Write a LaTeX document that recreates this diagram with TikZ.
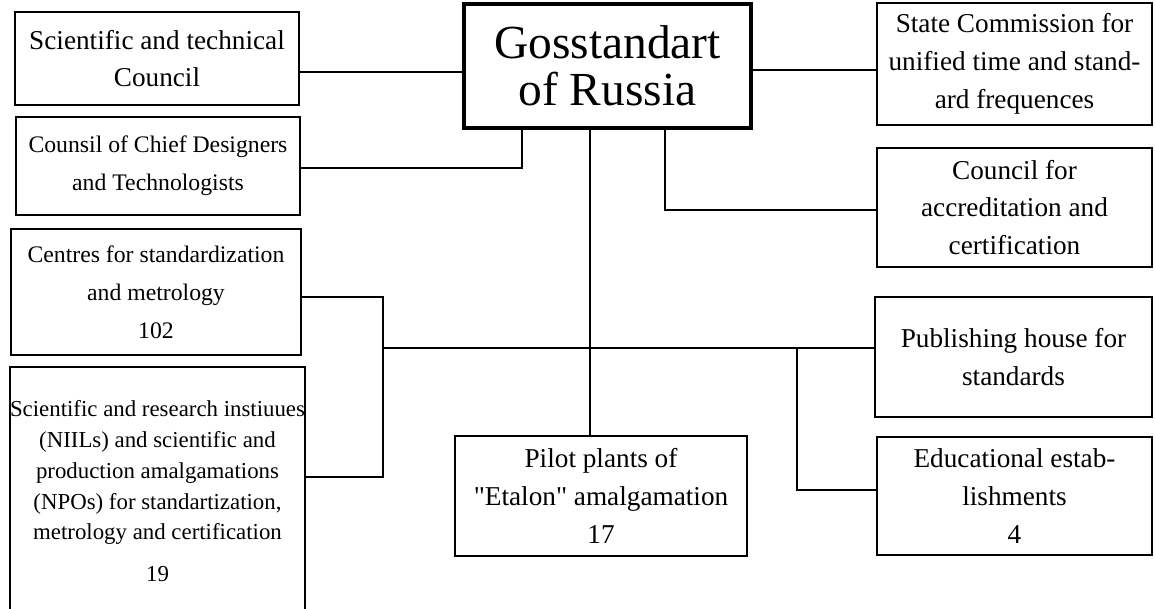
\documentclass[tikz,border=0pt]{standalone}
\usepackage{fontspec}
\setmainfont{Liberation Serif}
\usepackage{tikz}
\usetikzlibrary{calc}

\begin{document}
\begin{tikzpicture}[x=0.02cm,y=-0.02cm]
                      \tikzstyle{box}=[draw=black,line width=0.8pt,inner sep=0pt,align=center,font=\fontsize{15.5}{21.5}\selectfont]
                      \tikzstyle{small}=[font=\fontsize{13.5}{21.5}\selectfont]
                      \tikzstyle{tiny}=[font=\fontsize{13}{17.5}\selectfont]
                      \tikzstyle{line}=[line width=0.8pt]
                      \useasboundingbox (0,0) rectangle (1155,608);
                      \node[box,line width=2.2pt,minimum width=5.74cm,minimum height=2.48cm,font=\fontsize{27}{27}\selectfont] (gos) at (607.5,66) {Gosstandart\\of Russia};
                      \node[box,minimum width=5.68cm,minimum height=1.86cm] (sci) at (157,58.5) {Scientific and technical\\Council};
                      \node[box,small,minimum width=5.68cm,minimum height=1.96cm] (cdt) at (158,166) {Counsil of Chief Designers\\and Technologists};
                      \node[box,small,minimum width=5.8cm,minimum height=2.52cm] (csm) at (156,292) {Centres for standardization\\and metrology\\102};
                      \node[box,tiny,minimum width=5.86cm,minimum height=4.96cm] (nii) at (157.5,491) {Scientific and research instiuues\\(NIILs) and scientific and\\production amalgamations\\(NPOs) for standartization,\\metrology and certification\\[6pt]19};
                      \node[box,minimum width=5.5cm,minimum height=2.44cm] (sc) at (1014.5,64) {State Commission for\\unified time and stand-\\ard frequences};
                      \node[box,minimum width=5.5cm,minimum height=2.38cm] (acc) at (1014.5,207.5) {Council for\\accreditation and\\certification};
                      \node[box,minimum width=5.54cm,minimum height=2.4cm] (pub) at (1013.5,357) {Publishing house for\\standards};
                      \node[box,minimum width=5.5cm,minimum height=2.36cm] (edu) at (1014.5,496) {Educational estab-\\lishments\\4};
                      \node[box,minimum width=5.84cm,minimum height=2.4cm] (pil) at (601,496) {Pilot plants of\\\textquotedbl Etalon\textquotedbl\ amalgamation\\17};
                      \coordinate (lb) at (383,348);
                      \coordinate (rb) at (797,348);
                      \draw[line] (sci.east |- 0,72) -- (gos.west |- 0,72);
                      \draw[line] (cdt.east |- 0,168) -- (522,168) -- (522,0 |- gos.south);
                      \draw[line] (gos.east |- 0,70) -- (sc.west |- 0,70);
                      \draw[line] (665,0 |- gos.south) -- (665,210) -- (acc.west |- 0,210);
                      \draw[line] (590,0 |- gos.south) -- (590,0 |- pil.north);
                      \draw[line] (csm.east |- 0,297) -- (lb |- 0,297) -- (lb |- 0,477) -- (nii.east |- 0,477);
                      \draw[line] (lb) -- (pub.west |- lb);
                      \draw[line] (rb) -- (rb |- 0,490) -- (edu.west |- 0,490);
                  \end{tikzpicture}
\end{document}
